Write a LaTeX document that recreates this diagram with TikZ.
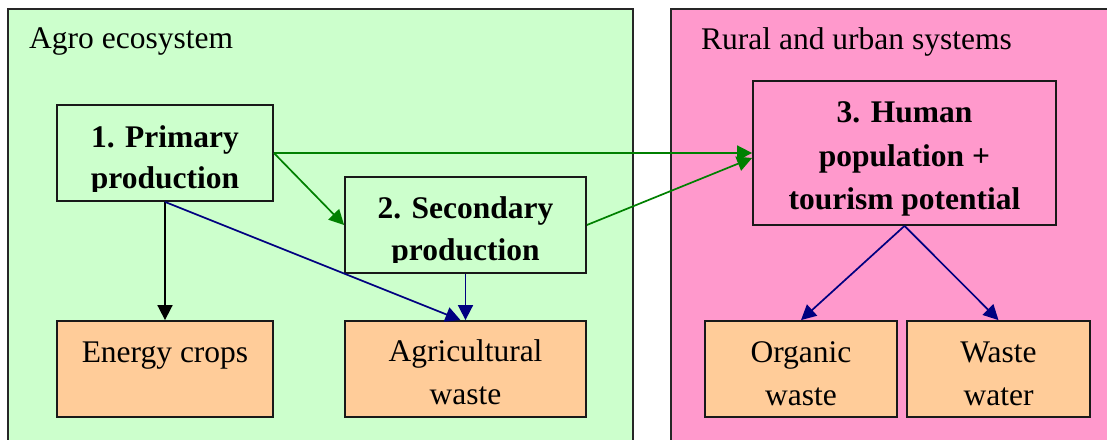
\documentclass[tikz,border=0pt]{standalone}
\usepackage{fontspec}
\setmainfont{Liberation Serif}
\usetikzlibrary{arrows.meta}
\definecolor{agro}{HTML}{CCFFCC}
\definecolor{rural}{HTML}{FF99CC}
\definecolor{waste}{HTML}{FFCC99}
\definecolor{garr}{HTML}{008000}
\definecolor{barr}{HTML}{000080}
\tikzset{
  cluster/.style={draw=black!85, line width=1.6pt},
  box/.style={draw=black!90, line width=1.8pt, inner sep=0pt},
  txt/.style={inner sep=0pt, anchor=base, font=\fontsize{31.5}{43}\selectfont},
  btxt/.style={txt, font=\fontsize{31.5}{43}\selectfont\bfseries},
  arr/.style={line width=1.7pt, -{Triangle[length=15pt,width=15pt]}},
  garrow/.style={arr, draw=garr, fill=garr},
  barrow/.style={arr, draw=barr, fill=barr},
  karrow/.style={arr, draw=black, fill=black}
}
\begin{document}
\begin{tikzpicture}[x=1pt,y=-1pt]
\fill[white] (0,0) rectangle (1107,439);
\clip (0,0) rectangle (1107,439);
% clusters
\filldraw[cluster, fill=agro] (8,9) rectangle (633,460);
\filldraw[cluster, fill=rural] (671,9) rectangle (1130,460);
\node[txt, anchor=base west] (agrot) at (29,48) {Agro ecosystem};
\node[txt, anchor=base west] (ruralt) at (701,49) {Rural and urban systems};
% boxes
\node[box, fill=agro, minimum width=216pt, minimum height=96pt] (p1) at (165,153) {};
\node[box, fill=agro, minimum width=241pt, minimum height=96pt] (p2) at (465.5,225) {};
\node[box, fill=rural, minimum width=303pt, minimum height=144pt] (h3) at (904.5,153) {};
\node[box, fill=waste, minimum width=216pt, minimum height=96pt] (ec) at (165,369) {};
\node[box, fill=waste, minimum width=241pt, minimum height=96pt] (aw) at (465.5,369) {};
\node[box, fill=waste, minimum width=192pt, minimum height=96pt] (ow) at (801,369) {};
\node[box, fill=waste, minimum width=183pt, minimum height=96pt] (ww) at (998.5,369) {};
% texts
\node[btxt] (p1a) at (165,147) {1. Primary};
\begin{scope}
\clip (57,105) rectangle (273,191);
\node[btxt] (p1b) at (165,188) {production};
\end{scope}
\node[btxt] (p2a) at (465.5,218) {2. Secondary};
\begin{scope}
\clip (345,177) rectangle (586,262.5);
\node[btxt] (p2b) at (465.5,260) {production};
\end{scope}
\node[btxt] (h3a) at (904.5,122) {3. Human};
\node[btxt] (h3b) at (904.5,166) {population +};
\node[btxt] (h3c) at (904.5,209) {tourism potential};
\node[txt] (eca) at (165,362) {Energy crops};
\node[txt] (awa) at (465.5,361) {Agricultural};
\node[txt] (awb) at (465.5,404) {waste};
\node[txt] (owa) at (801,362) {Organic};
\node[txt] (owb) at (801,405) {waste};
\node[txt] (wwa) at (998.5,362) {Waste};
\node[txt] (wwb) at (998.5,405) {water};
% connectors
\draw[garrow] (p1.east) -- (h3.west);
\draw[garrow] (p1.east) -- (p2.west);
\draw[garrow] (p2.east) -- ([yshift=-5pt]h3.west);
\draw[karrow] (p1.south) -- (ec.north);
\draw[barrow] (p1.south) -- ([xshift=-5pt]aw.north);
\draw[barrow] (p2.south) -- (aw.north);
\draw[barrow] (h3.south) -- (ow.north);
\draw[barrow] (h3.south) -- (ww.north);
\end{tikzpicture}
\end{document}
